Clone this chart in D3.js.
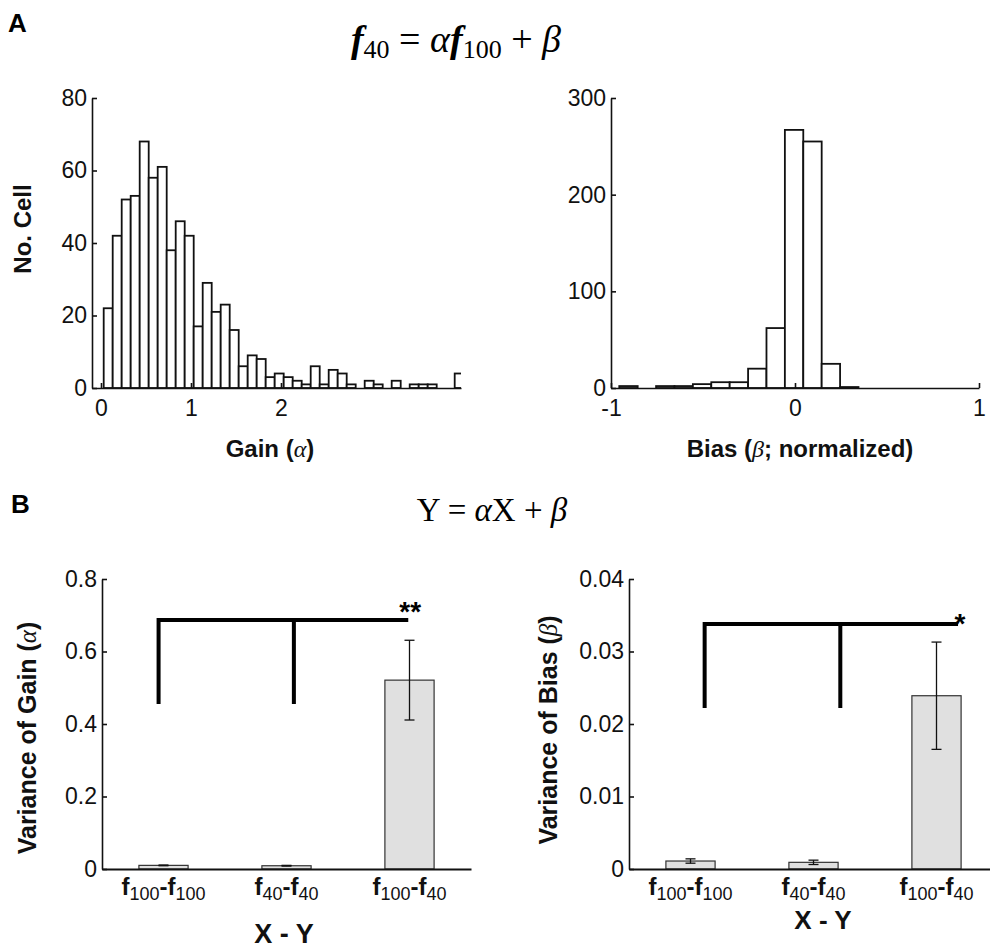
<!DOCTYPE html>
<html>
<head>
<meta charset="utf-8">
<script src="https://cdnjs.cloudflare.com/ajax/libs/d3/7.8.5/d3.min.js"></script>
<style>
  body { margin: 0; background: #fff; }
  svg { font-family: "Liberation Sans", Arial, sans-serif; }
</style>
</head>
<body>
<div id="fig"></div>
<script>
// --- histogram data (counts per bin)
var gainBinStart = 0.03, gainBinWidth = 0.1;
var gainCounts = [22, 42, 52, 53, 68, 58, 61, 38, 46, 42,
                  17, 29, 21, 23, 16, 6, 9, 8, 3, 4,
                  3, 2, 1, 6, 1, 5, 4, 1, 0, 2,
                  1, 0, 2, 0, 1, 1, 1, 0, 0, 4];
var gainTicksX = [0, 1, 2];
var gainTicksY = [0, 20, 40, 60, 80];

var biasBinStart = -0.955, biasBinWidth = 0.1;
var biasCounts = [2, 0, 2, 2, 4, 6, 6, 20, 62, 267, 255, 25, 1];
var biasTicksX = [-1, 0, 1];
var biasTicksY = [0, 100, 200, 300];

// --- variance bars
var pairLabels = [["100", "100"], ["40", "40"], ["100", "40"]];
var gainVar = [0.010, 0.009, 0.521];
var gainVarErr = [0.001, 0.001, 0.11];
var gainVarTicks = [0, 0.2, 0.4, 0.6, 0.8];
var biasVar = [0.0011, 0.00092, 0.0239];
var biasVarErr = [0.0003, 0.0003, 0.0074];
var biasVarTicks = [0, 0.01, 0.02, 0.03, 0.04];

// significance brackets: x positions (left, middle, right end), y (bottom, top)
var gainBracketX = [0.96, 2.06, 2.99], gainBracketY = [0.455, 0.687];
var biasBracketX = [1.115, 2.218, 3.175], biasBracketY = [0.0222, 0.0338];

var svg = d3.select("#fig").append("svg")
    .attr("width", 990)
    .attr("height", 949);

function styleAxis(g) {
  g.select(".domain").attr("stroke", "#111").attr("stroke-width", 1.6);
  g.selectAll(".tick line").attr("stroke", "#111").attr("stroke-width", 1.6);
  g.selectAll(".tick text").attr("fill", "#111").style("font-size", "23px");
}

// histogram panel
function drawHist(id, counts, start, w, xDom, xRange, xTicks, yMax, yTicks) {
  var x = d3.scaleLinear().domain(xDom).range(xRange);
  var y = d3.scaleLinear().domain([0, yMax]).range([388, 98]);

  svg.append("clipPath").attr("id", id)
    .append("rect")
      .attr("x", xRange[0]).attr("y", 90)
      .attr("width", xRange[1] - xRange[0]).attr("height", 300);

  svg.append("g").attr("clip-path", "url(#" + id + ")")
    .selectAll("rect")
    .data(counts.map(function(c, i) { return {c: c, i: i}; }).filter(function(d) { return d.c > 0; }))
    .enter().append("rect")
      .attr("x", function(d) { return x(start + d.i * w); })
      .attr("width", function(d) { return x(start + (d.i + 1) * w) - x(start + d.i * w); })
      .attr("y", function(d) { return y(d.c); })
      .attr("height", function(d) { return y(0) - y(d.c); })
      .attr("fill", "#fff")
      .attr("stroke", "#111")
      .attr("stroke-width", 1.8);

  svg.append("g")
    .attr("transform", "translate(0,388)")
    .call(d3.axisBottom(x).tickValues(xTicks).tickFormat(function(d) { return String(d); })
      .tickSizeInner(-5).tickSizeOuter(0).tickPadding(12))
    .call(styleAxis);

  svg.append("g")
    .attr("transform", "translate(" + xRange[0] + ",0)")
    .call(d3.axisLeft(y).tickValues(yTicks).tickSizeInner(-5).tickSizeOuter(0).tickPadding(5))
    .call(styleAxis);
}

drawHist("clipGain", gainCounts, gainBinStart, gainBinWidth, [-0.1, 4], [92, 461], gainTicksX, 80, gainTicksY);
drawHist("clipBias", biasCounts, biasBinStart, biasBinWidth, [-1, 1], [611, 979], biasTicksX, 300, biasTicksY);

// bar panel with error bars and bracket
function drawBars(vals, errs, yMax, yTicks, left, bx, by, stars, starDx, starY) {
  var x = d3.scaleLinear().domain([0.5, 3.5]).range([left, left + 369]);
  var y = d3.scaleLinear().domain([0, yMax]).range([869, 579]);
  var bw = x(1.4) - x(1);

  svg.append("g").selectAll("rect")
    .data(vals)
    .enter().append("rect")
      .attr("x", function(d, i) { return x(i + 1) - bw / 2; })
      .attr("width", bw)
      .attr("y", function(d) { return y(d); })
      .attr("height", function(d) { return y(0) - y(d); })
      .attr("fill", "#e0e0e0")
      .attr("stroke", "#333")
      .attr("stroke-width", 1.2);

  var eb = svg.append("g").attr("stroke", "#111").attr("stroke-width", 1.3);
  vals.forEach(function(v, i) {
    var cx = x(i + 1);
    eb.append("line").attr("x1", cx).attr("x2", cx).attr("y1", y(v - errs[i])).attr("y2", y(v + errs[i]));
    eb.append("line").attr("x1", cx - 5).attr("x2", cx + 5).attr("y1", y(v + errs[i])).attr("y2", y(v + errs[i]));
    eb.append("line").attr("x1", cx - 5).attr("x2", cx + 5).attr("y1", y(v - errs[i])).attr("y2", y(v - errs[i]));
  });

  svg.append("g")
    .attr("transform", "translate(0,869)")
    .call(d3.axisBottom(x).tickValues([]).tickSizeOuter(0))
    .call(styleAxis)
    .select(".domain").attr("stroke-width", 2);

  svg.append("g")
    .attr("transform", "translate(" + left + ",0)")
    .call(d3.axisLeft(y).tickValues(yTicks).tickFormat(function(d) { return String(d); })
      .tickSizeInner(-5).tickSizeOuter(0).tickPadding(5))
    .call(styleAxis);

  // category labels f_sub-f_sub
  pairLabels.forEach(function(p, i) {
    var t = svg.append("text")
      .attr("x", x(i + 1)).attr("y", 895)
      .attr("text-anchor", "middle")
      .attr("fill", "#111")
      .style("font-size", "24px").style("font-weight", "bold");
    t.append("tspan").text("f");
    t.append("tspan").attr("dy", 5).style("font-size", "18px").style("font-weight", "normal").text(p[0]);
    t.append("tspan").attr("dy", -5).text("-f");
    t.append("tspan").attr("dy", 5).style("font-size", "18px").style("font-weight", "normal").text(p[1]);
  });

  // bracket
  svg.append("path")
    .attr("d", "M" + x(bx[0]) + "," + y(by[0]) + "V" + y(by[1]) + "H" + x(bx[2]) +
               "M" + x(bx[1]) + "," + y(by[0]) + "V" + y(by[1]))
    .attr("fill", "none")
    .attr("stroke", "#000")
    .attr("stroke-width", 4);

  svg.append("text")
    .attr("x", x(bx[2]) + starDx).attr("y", starY)
    .attr("text-anchor", "middle")
    .style("font-size", "28px").style("font-weight", "bold")
    .text(stars);
}

drawBars(gainVar, gainVarErr, 0.8, gainVarTicks, 102, gainBracketX, gainBracketY, "**", 2, 621);
drawBars(biasVar, biasVarErr, 0.04, biasVarTicks, 629, biasBracketX, biasBracketY, "*", 2, 633);

// panel letters
svg.append("text").attr("x", 8).attr("y", 32).style("font-size", "26px").style("font-weight", "bold").text("A");
svg.append("text").attr("x", 11).attr("y", 513).style("font-size", "26px").style("font-weight", "bold").text("B");

// equations
var serif = "'Liberation Serif', 'DejaVu Serif', serif";
var eqA = svg.append("text")
  .attr("x", 456).attr("y", 52)
  .attr("text-anchor", "middle")
  .style("font-family", serif).style("font-size", "38px");
eqA.append("tspan").style("font-weight", "bold").style("font-style", "italic").text("f");
eqA.append("tspan").attr("dy", 6).style("font-size", "26px").text("40");
eqA.append("tspan").attr("dy", -6).text(" = ");
eqA.append("tspan").style("font-style", "italic").text("α");
eqA.append("tspan").style("font-weight", "bold").style("font-style", "italic").text("f");
eqA.append("tspan").attr("dy", 6).style("font-size", "26px").text("100");
eqA.append("tspan").attr("dy", -6).text(" + ");
eqA.append("tspan").style("font-style", "italic").text("β");

var eqB = svg.append("text")
  .attr("x", 492).attr("y", 521)
  .attr("text-anchor", "middle")
  .style("font-family", serif).style("font-size", "33px");
eqB.append("tspan").text("Y = ");
eqB.append("tspan").style("font-style", "italic").text("α");
eqB.append("tspan").text("X + ");
eqB.append("tspan").style("font-style", "italic").text("β");

// axis titles
function axisTitle(x, y, rot, size, before, greek, after) {
  var t = svg.append("text")
    .attr("transform", "translate(" + x + "," + y + ")" + (rot ? " rotate(-90)" : ""))
    .attr("text-anchor", "middle")
    .attr("dominant-baseline", rot ? "central" : "auto")
    .attr("fill", "#111")
    .style("font-size", size + "px").style("font-weight", "bold");
  t.append("tspan").text(before);
  if (greek) {
    t.append("tspan").style("font-family", serif).style("font-style", "italic").style("font-weight", "normal").text(greek);
    t.append("tspan").text(after);
  }
}
axisTitle(22, 229, true, 24, "No. Cell");
axisTitle(270, 457, false, 24, "Gain (", "α", ")");
axisTitle(800, 457, false, 24, "Bias (", "β", "; normalized)");
axisTitle(27, 738, true, 25, "Variance of Gain (", "α", ")");
axisTitle(548, 730, true, 25, "Variance of Bias (", "β", ")");
axisTitle(284, 943, false, 27, "X - Y");
axisTitle(823, 929, false, 26, "X - Y");
</script>
</body>
</html>
